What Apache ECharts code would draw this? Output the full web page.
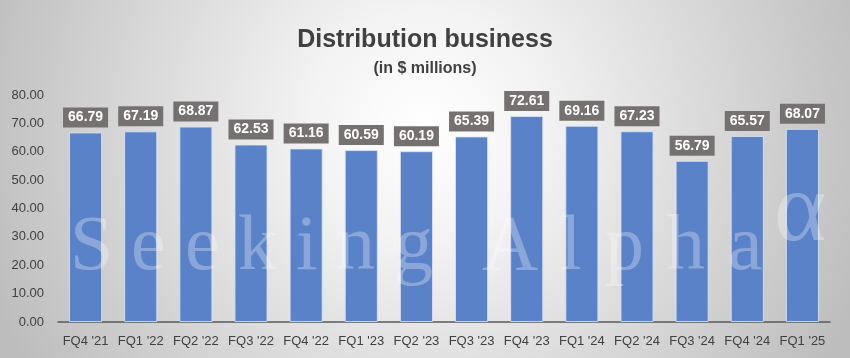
<!DOCTYPE html>
<html>
<head>
<meta charset="utf-8">
<script src="https://cdn.jsdelivr.net/npm/echarts@6/dist/echarts.min.js"></script>
<style>html,body{margin:0;padding:0;}#c{width:850px;height:358px;}</style>
</head>
<body>
<div id="c"></div>
<script>
var categories = ["FQ4 '21","FQ1 '22","FQ2 '22","FQ3 '22","FQ4 '22","FQ1 '23","FQ2 '23","FQ3 '23","FQ4 '23","FQ1 '24","FQ2 '24","FQ3 '24","FQ4 '24","FQ1 '25"];
var values = [66.79, 67.19, 68.87, 62.53, 61.16, 60.59, 60.19, 65.39, 72.61, 69.16, 67.23, 56.79, 65.57, 68.07];
var yTicks = [0, 10, 20, 30, 40, 50, 60, 70, 80];
var titleText = "Distribution business";
var subtitleText = "(in $ millions)";

// watermark glyph placement (style only)
var wmChars = [
  ["S",70],["e",131],["e",185],["k",238],["i",296],["n",336],["g",394],
  ["A",482],["l",560],["p",605],["h",666],["a",728]
];
var wmGraphics = wmChars.map(function(c){
  return {type:'text', left:c[1], top:210, z:50, silent:true,
    style:{text:c[0], font:'78px "Liberation Serif", serif', fill:'rgba(255,255,255,0.3)'}};
});
wmGraphics.push({type:'text', left:774, top:164, z:50, silent:true,
  style:{text:'α', font:'100px "Liberation Serif", serif', fill:'rgba(255,255,255,0.3)'}});

var chart = echarts.init(document.getElementById('c'), null, {renderer:'canvas'});
chart.setOption({
  animation:false,
  backgroundColor:{type:'radial', x:0.5, y:0.35, r:1.3,
    colorStops:[{offset:0,color:'#ffffff'},{offset:0.25,color:'#f3f3f3'},{offset:1,color:'#bdbdbd'}]},
  title:[
    {text:titleText, left:'center', top:21, textStyle:{fontFamily:'"Liberation Sans", Arial, sans-serif', fontSize:25, fontWeight:'bold', color:'#404040', lineHeight:28}},
    {text:subtitleText, left:'center', top:55, textStyle:{fontFamily:'"Liberation Sans", Arial, sans-serif', fontSize:16, fontWeight:'bold', color:'#404040', lineHeight:18}}
  ],
  grid:{left:58, right:20, top:95, bottom:36, containLabel:false},
  xAxis:{type:'category', data:categories,
    axisLine:{lineStyle:{color:'#595959', width:1.5}},
    axisTick:{show:false},
    axisLabel:{interval:0, color:'#404040', fontSize:13, fontFamily:'"Liberation Sans", Arial, sans-serif', margin:13}},
  yAxis:{type:'value', min:yTicks[0], max:yTicks[yTicks.length-1], interval:yTicks[1]-yTicks[0],
    splitLine:{show:false}, axisLine:{show:false}, axisTick:{show:false},
    axisLabel:{color:'#404040', fontSize:13, fontFamily:'"Liberation Sans", Arial, sans-serif', margin:14,
      formatter:function(v){return v.toFixed(2);}}},
  series:[{type:'bar', data:values, barWidth:'60%',
    itemStyle:{color:'#5a82c9', borderColor:'rgba(220,230,248,0.8)', borderWidth:1},
    label:{show:true, position:'top', distance:5, color:'#ffffff', fontWeight:'bold', fontSize:14,
      fontFamily:'"Liberation Sans", Arial, sans-serif', backgroundColor:'#767171', padding:[3,5,3,5],
      formatter:function(p){return p.value.toFixed(2);}}}],
  graphic: wmGraphics
});
</script>
</body>
</html>
